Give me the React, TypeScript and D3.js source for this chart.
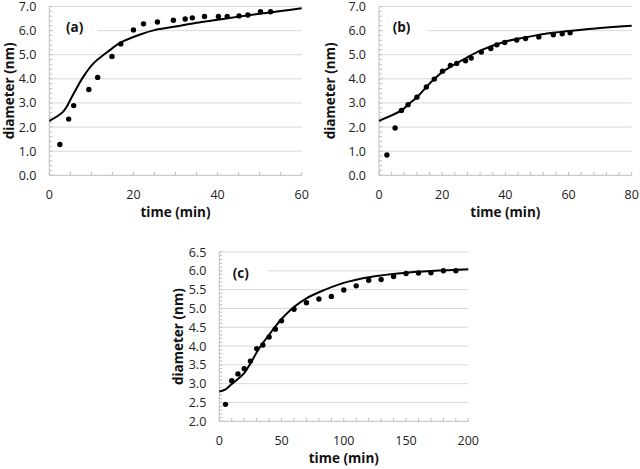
import React from 'react';
import * as d3 from 'd3';

// Panel (a)
const A_TIME = [2.5, 4.6, 5.8, 9.4, 11.5, 14.9, 17.0, 20.0, 22.4, 25.7, 29.5, 32.3, 34.0, 36.9, 40.2, 42.3, 45.1, 47.2, 50.2, 52.6];
const A_DIAM = [1.28, 2.33, 2.89, 3.56, 4.06, 4.93, 5.45, 6.03, 6.28, 6.36, 6.43, 6.48, 6.53, 6.59, 6.59, 6.59, 6.61, 6.65, 6.78, 6.78];
const A_FIT_TIME = [0, 3.3, 5.7, 8.1, 10.5, 14.4, 16.8, 21.6, 25, 30, 35, 40, 45, 50, 55, 60];
const A_FIT_DIAM = [2.26, 2.64, 3.36, 4.09, 4.64, 5.19, 5.49, 5.84, 6.02, 6.17, 6.33, 6.45, 6.58, 6.7, 6.81, 6.93];

// Panel (b)
const B_TIME = [2.5, 5.1, 7.1, 9.2, 12.0, 15.0, 17.5, 20.1, 22.6, 24.6, 27.4, 29.2, 32.4, 35.4, 37.3, 39.8, 43.6, 46.4, 50.6, 55.2, 58.0, 60.5];
const B_DIAM = [0.84, 1.96, 2.69, 2.93, 3.24, 3.66, 3.99, 4.32, 4.56, 4.64, 4.75, 4.86, 5.11, 5.26, 5.41, 5.51, 5.61, 5.67, 5.74, 5.83, 5.87, 5.91];
const B_FIT_TIME = [0, 7.1, 9.2, 12, 15, 17.5, 20, 22.6, 27.4, 32.4, 39.8, 46.4, 55, 65, 80];
const B_FIT_DIAM = [2.26, 2.69, 2.93, 3.24, 3.66, 3.99, 4.28, 4.5, 4.85, 5.19, 5.54, 5.72, 5.91, 6.05, 6.2];

// Panel (c)
const C_TIME = [5, 10, 15, 20, 25, 30, 35, 40, 45, 50, 60, 70, 80, 90, 100, 110, 120, 130, 140, 150, 160, 170, 180, 190];
const C_DIAM = [2.45, 3.08, 3.26, 3.40, 3.60, 3.93, 4.03, 4.24, 4.45, 4.67, 4.98, 5.15, 5.25, 5.32, 5.49, 5.60, 5.75, 5.77, 5.85, 5.93, 5.94, 5.95, 6.00, 6.00];
const C_FIT_TIME = [0, 5, 10, 20, 25, 30, 35, 40, 45, 50, 60, 70, 80, 100, 120, 150, 200];
const C_FIT_DIAM = [2.79, 2.85, 2.99, 3.28, 3.54, 3.83, 4.08, 4.3, 4.52, 4.72, 5.04, 5.27, 5.43, 5.68, 5.83, 5.95, 6.04];

const PANEL_LABELS = ['(a)', '(b)', '(c)'];
const X_TITLE = 'time (min)';
const Y_TITLE = 'diameter (nm)';

const TICK_FONT = '"Open Sans", "Liberation Sans", sans-serif';
const AXIS_COLOR = '#bfbfbf';
const GRID_COLOR = '#d9d9d9';

type PanelProps = {
  x0: number; x1: number; y0: number; y1: number;
  xMax: number; xMajor: number; xMinor: number;
  yMin: number; yMax: number; yMajor: number; yMinor: number;
  label: string; labelX: number; labelY: number; titleX: number;
  time: number[]; diam: number[]; fitTime: number[]; fitDiam: number[];
};

function Panel(p: PanelProps) {
  const x = d3.scaleLinear().domain([0, p.xMax]).range([p.x0, p.x1]);
  const y = d3.scaleLinear().domain([p.yMin, p.yMax]).range([p.y0, p.y1]);
  const nMajY = Math.round((p.yMax - p.yMin) / p.yMajor);
  const majY = d3.range(nMajY + 1).map(i => p.yMin + i * p.yMajor);
  const nMinY = Math.round((p.yMax - p.yMin) / p.yMinor);
  const minY = d3.range(nMinY + 1).map(i => p.yMin + i * p.yMinor);
  const nMajX = Math.round(p.xMax / p.xMajor);
  const majX = d3.range(nMajX + 1).map(i => i * p.xMajor);
  const nMinX = Math.round(p.xMax / p.xMinor);
  const minX = d3.range(nMinX + 1).map(i => i * p.xMinor);
  const fit = p.fitTime.map((t, i) => [t, p.fitDiam[i]] as [number, number]);
  const line = d3.line<[number, number]>()
    .x(d => x(d[0]))
    .y(d => y(d[1]))
    .curve(d3.curveCatmullRom.alpha(0.5));
  const gridY = y(6.0);
  return (
    <g>
      {majY.slice(1).map(v => (
        <line key={'g' + v} x1={p.x0} x2={p.x1} y1={y(v)} y2={y(v)} stroke={GRID_COLOR} strokeWidth={1} />
      ))}
      <rect x={p.x0 + 4} y={gridY - 7} width={44.5} height={14} fill="#fff" />
      {/* axes */}
      <line x1={p.x0} x2={p.x0} y1={p.y0} y2={p.y1} stroke={AXIS_COLOR} strokeWidth={1} />
      <line x1={p.x0} x2={p.x1} y1={p.y0} y2={p.y0} stroke={AXIS_COLOR} strokeWidth={1} />
      {minY.map(v => (
        <line key={'my' + v} x1={p.x0} x2={p.x0 + 3} y1={y(v)} y2={y(v)} stroke={AXIS_COLOR} strokeWidth={1} />
      ))}
      {minX.map(v => (
        <line key={'mx' + v} x1={x(v)} x2={x(v)} y1={p.y0} y2={p.y0 - 3.5} stroke={AXIS_COLOR} strokeWidth={1} />
      ))}
      {majY.map(v => (
        <text key={'ty' + v} x={p.x0 - 13} y={y(v)} dy="0.36em" textAnchor="end"
          fontFamily={TICK_FONT} fontSize={12.5} fill="#222">{v.toFixed(1)}</text>
      ))}
      {majX.map(v => (
        <text key={'tx' + v} x={x(v)} y={p.y0 + 23.5} textAnchor="middle"
          fontFamily={TICK_FONT} fontSize={12.5} fill="#222">{v}</text>
      ))}
      <text x={(p.x0 + p.x1) / 2} y={p.y0 + 41.5} textAnchor="middle" fontFamily={TICK_FONT}
        fontWeight={700} fontSize={13.5} fill="#111">{X_TITLE}</text>
      <text transform={`translate(${p.titleX},${(p.y0 + p.y1) / 2}) rotate(-90)`} textAnchor="middle"
        dy="0.35em" fontFamily={TICK_FONT} fontWeight={700} fontSize={13.5} fill="#111">{Y_TITLE}</text>
      <path d={line(fit) || ''} fill="none" stroke="#000" strokeWidth={2} />
      {p.time.map((t, i) => (
        <circle key={'p' + i} cx={x(t)} cy={y(p.diam[i])} r={2.7} fill="#000" />
      ))}
      <text x={p.labelX} y={p.labelY} dy="0.35em" fontFamily={TICK_FONT} fontWeight={700}
        fontSize={13.5} fill="#111">{p.label}</text>
    </g>
  );
}

export default function App() {
  return (
    <div style={{ position: 'absolute', left: 0, top: 0 }}>
      <svg width={640} height={469} style={{ display: 'block', background: '#fff' }}>
        <rect width={640} height={469} fill="#fff" />
        <Panel x0={49.3} x1={301.7} y0={175.3} y1={6.5} xMax={60} xMajor={20} xMinor={5}
          yMin={0} yMax={7} yMajor={1} yMinor={0.2}
          label={PANEL_LABELS[0]} labelX={66} labelY={27} titleX={9}
          time={A_TIME} diam={A_DIAM} fitTime={A_FIT_TIME} fitDiam={A_FIT_DIAM} />
        <Panel x0={379} x1={631.7} y0={175.3} y1={6.5} xMax={80} xMajor={20} xMinor={4}
          yMin={0} yMax={7} yMajor={1} yMinor={0.2}
          label={PANEL_LABELS[1]} labelX={392.7} labelY={27} titleX={330.5}
          time={B_TIME} diam={B_DIAM} fitTime={B_FIT_TIME} fitDiam={B_FIT_DIAM} />
        <Panel x0={219.3} x1={468.3} y0={421.3} y1={252} xMax={200} xMajor={50} xMinor={10}
          yMin={2} yMax={6.5} yMajor={0.5} yMinor={0.1}
          label={PANEL_LABELS[2]} labelX={232.7} labelY={273.5} titleX={178}
          time={C_TIME} diam={C_DIAM} fitTime={C_FIT_TIME} fitDiam={C_FIT_DIAM} />
      </svg>
    </div>
  );
}
